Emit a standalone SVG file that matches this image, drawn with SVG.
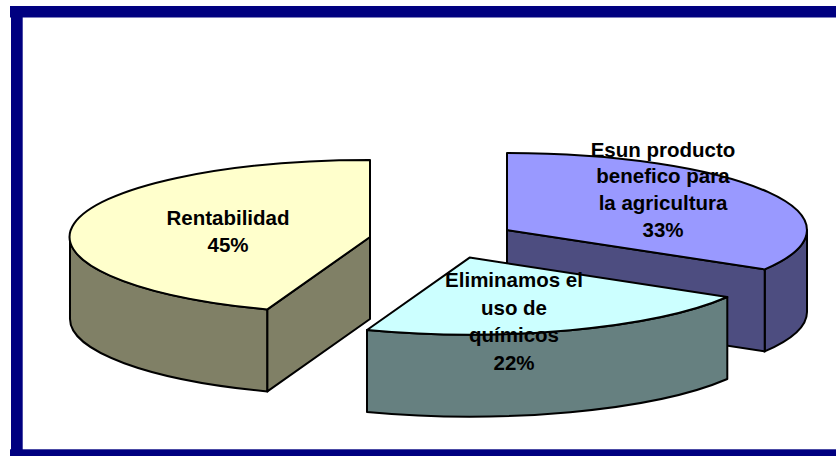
<svg xmlns="http://www.w3.org/2000/svg" width="836" height="456" viewBox="0 0 836 456">
<style>
.f{stroke:#000;stroke-width:2;stroke-linejoin:round}
.lbl{font-family:"Liberation Sans",Arial,sans-serif;font-weight:bold;font-size:20.5px;fill:#000;text-anchor:middle}
.frame{fill:#000080}
</style>
<rect x="0" y="0" width="836" height="456" fill="#fff"/>
<g id="frame">
<rect class="frame" x="10" y="6" width="826" height="11.5"/>
<rect class="frame" x="11" y="6" width="11.7" height="450"/>
<rect class="frame" x="10" y="449.3" width="826" height="6.7"/>
</g>
<g id="slice-agricultura">
<path class="f" fill="#4D4D80" d="M807,230 A300,77 0 0,1 764.7,269.4 L764.7,351.4 A300,77 0 0,0 807,312 Z"/>
<path class="f" fill="#4D4D80" d="M507,230 L764.7,269.4 L764.7,351.4 L507,312 Z"/>
<path class="f" fill="#9999FF" d="M507,230 L507,153 A300,77 0 0,1 764.7,269.4 Z"/>
</g>
<g id="slice-rentabilidad">
<path class="f" fill="#808066" d="M70,237 A300,77 0 0,0 267.4,309.4 L267.4,391.4 A300,77 0 0,1 70,319 Z"/>
<path class="f" fill="#808066" d="M370,237 L267.4,309.4 L267.4,391.4 L370,319 Z"/>
<path class="f" fill="#FFFFCC" d="M370,237 L370,160 A300,77 0 0,0 267.4,309.4 Z"/>
</g>
<g id="slice-quimicos">
<path class="f" fill="#668080" d="M367,330 A300,77 0 0,0 727.3,297 L727.3,379 A300,77 0 0,1 367,412 Z"/>
<path class="f" fill="#CCFFFF" d="M469.6,257.6 L367,330 A300,77 0 0,0 727.3,297 Z"/>
</g>
<g id="labels">
<text class="lbl" x="228" y="225">Rentabilidad</text>
<text class="lbl" x="228" y="251.7">45%</text>
<text class="lbl" x="514" y="286.7">Eliminamos el</text>
<text class="lbl" x="514" y="315">uso de</text>
<text class="lbl" x="514" y="341.7">químicos</text>
<text class="lbl" x="514" y="370">22%</text>
<text class="lbl" x="663" y="156.7">Esun producto</text>
<text class="lbl" x="663" y="183.3">benefico para</text>
<text class="lbl" x="663" y="210">la agricultura</text>
<text class="lbl" x="663" y="236.7">33%</text>
</g>
</svg>
